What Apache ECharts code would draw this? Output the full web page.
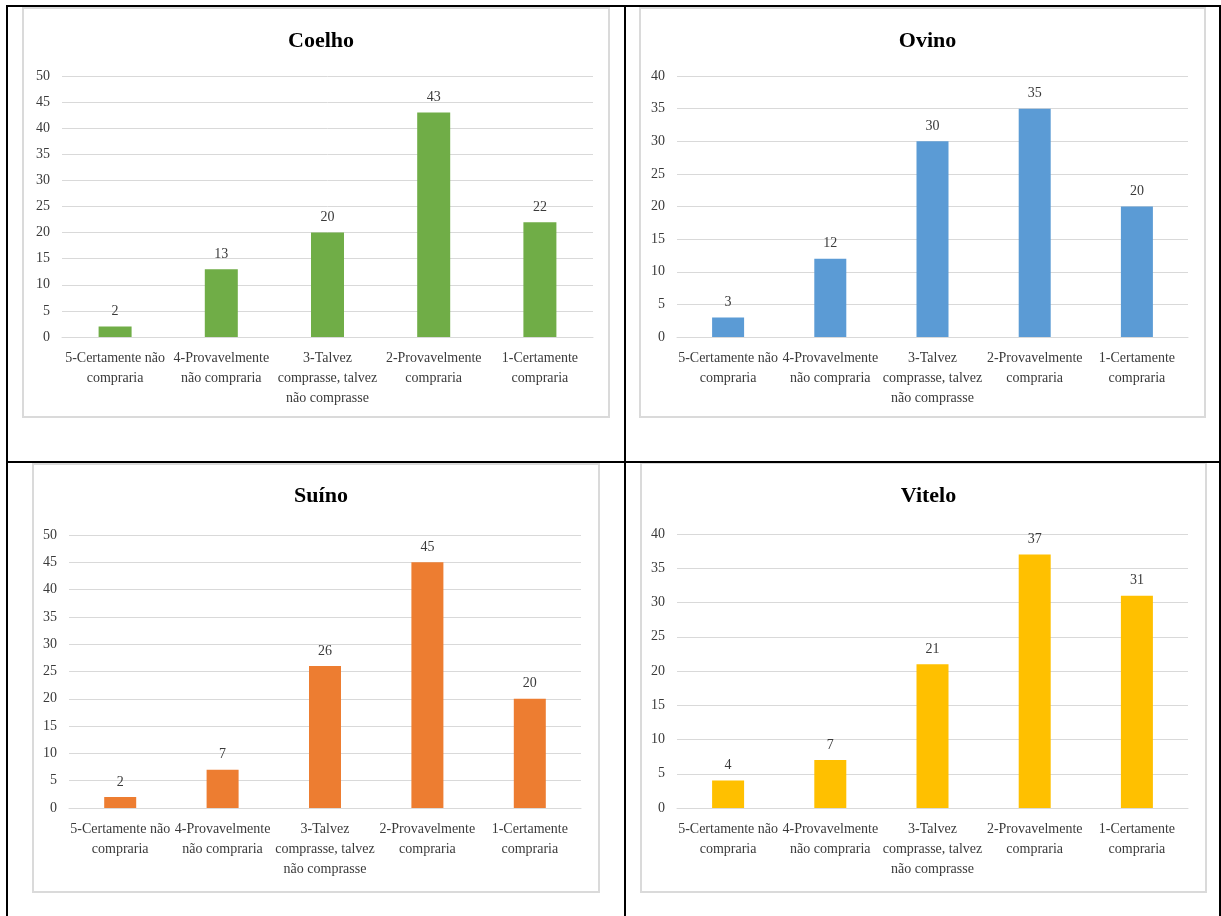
<!DOCTYPE html>
<html>
<head>
<meta charset="utf-8">
<script src="https://cdn.jsdelivr.net/npm/echarts@6/dist/echarts.min.js"></script>
<style>
  html, body { margin: 0; padding: 0; background: #fff; }
  #chart { width: 1221px; height: 916px; }
</style>
</head>
<body>
<div id="chart"></div>
<script>
// Purchase intention answers, one panel per meat type
const categories = [
  '5-Certamente não\ncompraria',
  '4-Provavelmente\nnão compraria',
  '3-Talvez\ncomprasse, talvez\nnão comprasse',
  '2-Provavelmente\ncompraria',
  '1-Certamente\ncompraria'
];
const titles = ['Coelho', 'Ovino', 'Suíno', 'Vitelo'];
const coelho = [2, 13, 20, 43, 22];
const ovino = [3, 12, 30, 35, 20];
const suino = [2, 7, 26, 45, 20];
const vitelo = [4, 7, 21, 37, 31];
const axisMax = [50, 40, 50, 40];
const colors = ['#70ad47', '#5b9bd5', '#ed7d31', '#ffc000'];

const seriesData = [coelho, ovino, suino, vitelo];

// Panel layout: frame box, plot grid and title position
const panels = [
  { box: [23, 8, 586, 409], grid: { left: 62, top: 76, width: 531, height: 261 }, titleTop: 25, barWidth: 33 },
  { box: [640, 8, 565, 409], grid: { left: 677, top: 76, width: 511, height: 261 }, titleTop: 25, barWidth: 32 },
  { box: [33, 464, 566, 428], grid: { left: 69, top: 535, width: 512, height: 273 }, titleTop: 480, barWidth: 32 },
  { box: [641, 463, 565, 429], grid: { left: 677, top: 534, width: 511, height: 274 }, titleTop: 480, barWidth: 32 }
];

const font = 'Liberation Serif';
const textColor = '#3a3a3a';

const option = {
  backgroundColor: '#fff',
  animation: false,
  title: panels.map((p, i) => ({
    text: titles[i],
    left: p.box[0] + p.box[2] / 2,
    top: p.titleTop,
    textAlign: 'center',
    textStyle: { fontFamily: font, fontWeight: 'bold', fontSize: 22, color: '#000' }
  })),
  grid: panels.map(p => Object.assign({}, p.grid)),
  xAxis: panels.map((p, i) => ({
    type: 'category',
    gridIndex: i,
    data: categories,
    axisTick: { show: false },
    axisLine: { lineStyle: { color: '#d9d9d9', width: 1 } },
    axisLabel: {
      interval: 0,
      margin: 11,
      fontFamily: font,
      fontSize: 14,
      lineHeight: 20,
      color: textColor
    }
  })),
  yAxis: panels.map((p, i) => ({
    type: 'value',
    gridIndex: i,
    min: 0,
    max: axisMax[i],
    interval: 5,
    axisLine: { show: false },
    axisTick: { show: false },
    splitLine: { lineStyle: { color: '#d9d9d9', width: 1 } },
    axisLabel: { margin: 12, fontFamily: font, fontSize: 14, color: textColor }
  })),
  series: panels.map((p, i) => ({
    type: 'bar',
    xAxisIndex: i,
    yAxisIndex: i,
    data: seriesData[i],
    barWidth: p.barWidth,
    itemStyle: { color: colors[i] },
    label: {
      show: true,
      position: 'top',
      distance: 8,
      fontFamily: font,
      fontSize: 14,
      color: textColor
    }
  })),
  graphic: [
    // light frames around each chart
    ...panels.map(p => ({
      type: 'rect',
      shape: { x: p.box[0], y: p.box[1], width: p.box[2], height: p.box[3] },
      style: { fill: 'none', stroke: '#dadada', lineWidth: 2 },
      z: -1
    })),
    // black table rules
    { type: 'rect', shape: { x: 6, y: 5, width: 1215, height: 2 }, style: { fill: '#000' } },
    { type: 'rect', shape: { x: 6, y: 5, width: 2, height: 911 }, style: { fill: '#000' } },
    { type: 'rect', shape: { x: 624, y: 5, width: 2, height: 911 }, style: { fill: '#000' } },
    { type: 'rect', shape: { x: 1219, y: 5, width: 2, height: 911 }, style: { fill: '#000' } },
    { type: 'rect', shape: { x: 6, y: 461, width: 1215, height: 2 }, style: { fill: '#000' } }
  ]
};

const chart = echarts.init(document.getElementById('chart'), null, { renderer: 'canvas' });
chart.setOption(option);
</script>
</body>
</html>
